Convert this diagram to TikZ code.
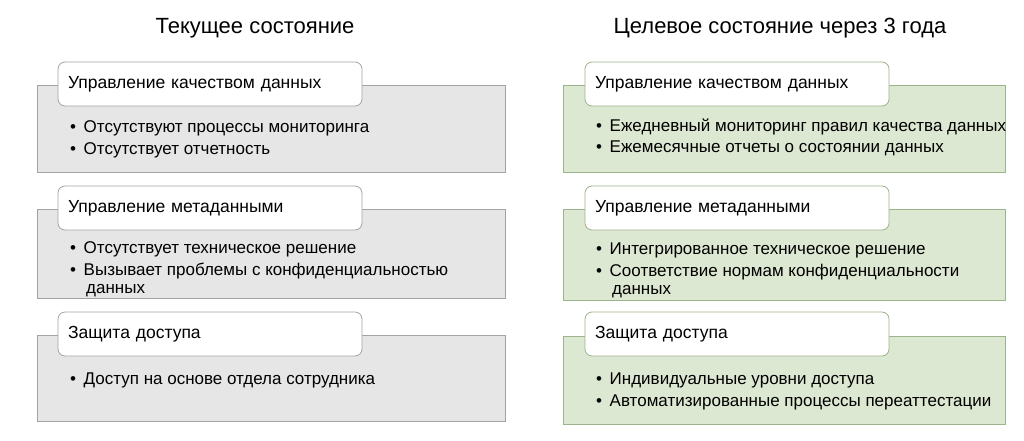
\documentclass[tikz,border=0pt]{standalone}
\usepackage{fontspec}
\setmainfont{Liberation Sans}
\usetikzlibrary{positioning}
\definecolor{graybg}{HTML}{E6E6E6}
\definecolor{grayline}{HTML}{A3A3A3}
\definecolor{greenbg}{HTML}{DDE8D3}
\definecolor{greenline}{HTML}{9DB38C}
\tikzset{
  nowbox/.style={draw=grayline, fill=graybg, line width=0.8pt},
  goalbox/.style={draw=greenline, fill=greenbg, line width=0.8pt},
  head/.style={rounded corners=7pt, fill=white, line width=0.8pt, minimum width=304pt, minimum height=44pt, text width=284pt, align=left, font=\fontsize{17.5}{20}\selectfont},
  item/.style={anchor=west, inner sep=0pt, font=\fontsize{17}{19}\selectfont},
  title/.style={font=\fontsize{22}{25}\selectfont}
}
\begin{document}
\begin{tikzpicture}[x=1pt, y=-1pt]
  \useasboundingbox (0,0) rectangle (1024,441);
  % заголовки колонок
  \node[title] (tnow) at (255,28) {Текущее состояние};
  \node[title] (tgoal) at (780,28) {Целевое состояние через 3 года};

  % левая колонка
  \draw[nowbox] (37,85) rectangle (505,172);
  \draw[nowbox] (37,209) rectangle (505,298);
  \draw[nowbox] (37,335) rectangle (505,421);
  \node[head, draw=grayline] (nq) at (210,84) {Управление качеством данных};
  \node[head, draw=grayline] (nm) at (210,208) {Управление метаданными};
  \node[head, draw=grayline] (na) at (210,334) {Защита доступа};
  \node[item] (nq1) at (70,128) {•\, Отсутствуют процессы мониторинга};
  \node[item] (nq2) at (70,150) {•\, Отсутствует отчетность};
  \node[item] (nm1) at (70,249) {•\, Отсутствует техническое решение};
  \node[item] (nm2) at (70,271) {•\, Вызывает проблемы с конфиденциальностью};
  \node[item] (nm3) at (86,291) {данных};
  \node[item] (na1) at (70,380) {•\, Доступ на основе отдела сотрудника};

  % правая колонка
  \draw[goalbox] (563,85) rectangle (1005,172);
  \draw[goalbox] (563,209) rectangle (1005,300);
  \draw[goalbox] (563,336) rectangle (1005,424);
  \node[head, draw=greenline] (gq) at (737,84) {Управление качеством данных};
  \node[head, draw=greenline] (gm) at (737,208) {Управление метаданными};
  \node[head, draw=greenline] (ga) at (737,334) {Защита доступа};
  \node[item] (gq1) at (596,127) {•\, Ежедневный мониторинг правил качества данных};
  \node[item] (gq2) at (596,148) {•\, Ежемесячные отчеты о состоянии данных};
  \node[item] (gm1) at (596,250) {•\, Интегрированное техническое решение};
  \node[item] (gm2) at (596,272) {•\, Соответствие нормам конфиденциальности};
  \node[item] (gm3) at (612,292) {данных};
  \node[item] (ga1) at (596,380) {•\, Индивидуальные уровни доступа};
  \node[item] (ga2) at (596,402) {•\, Автоматизированные процессы переаттестации};
\end{tikzpicture}
\end{document}
